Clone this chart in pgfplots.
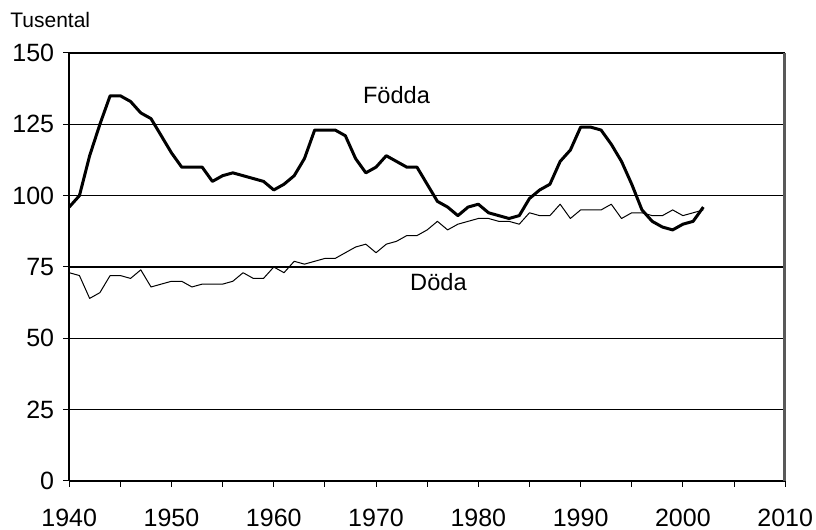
\documentclass[border=0pt]{standalone}
\usepackage{fontspec}
\setmainfont{Liberation Sans}
\usepackage{pgfplots}
\pgfplotsset{compat=1.18}
\begin{document}
\begin{tikzpicture}
\useasboundingbox (-34.6pt,-24.5pt) rectangle (373.4pt,240.5pt);
\begin{axis}[
  name=ax,
  at={(0pt,0pt)}, anchor=south west,
  scale only axis, width=358pt, height=214pt,
  xmin=1940, xmax=2010, ymin=0, ymax=150,
  axis x line=bottom, axis y line=left,
  axis line style={-, line width=0.8pt, black},
  xtick={1940,1950,...,2010}, minor x tick num=1,
  ytick={0,25,...,150},
  tick align=outside, major tick length=3pt, minor tick length=3pt,
  tick style={black, line width=0.5pt},
  ymajorgrids, major grid style={black, line width=0.55pt},
  /pgf/number format/assume math mode=true,
  /pgf/number format/1000 sep={},
  tick label style={font=\fontsize{12.5}{14}\selectfont},
  xticklabel style={yshift=-7.5pt},
  yticklabel style={xshift=-1pt},
  clip=false,
]
\addplot[black, line width=1.5pt, line join=round, mark=none] coordinates {
(1940,96) (1941,100) (1942,114) (1943,125) (1944,135) (1945,135) (1946,133)
(1947,129) (1948,127) (1949,121) (1950,115) (1951,110) (1952,110) (1953,110)
(1954,105) (1955,107) (1956,108) (1957,107) (1958,106) (1959,105) (1960,102)
(1961,104) (1962,107) (1963,113) (1964,123) (1965,123) (1966,123) (1967,121)
(1968,113) (1969,108) (1970,110) (1971,114) (1972,112) (1973,110) (1974,110)
(1975,104) (1976,98) (1977,96) (1978,93) (1979,96) (1980,97) (1981,94)
(1982,93) (1983,92) (1984,93) (1985,99) (1986,102) (1987,104) (1988,112)
(1989,116) (1990,124) (1991,124) (1992,123) (1993,118) (1994,112) (1995,104)
(1996,95) (1997,91) (1998,89) (1999,88) (2000,90) (2001,91) (2002,96)
};
\addplot[black, line width=0.5pt, line join=round, mark=none] coordinates {
(1940,73) (1941,72) (1942,64) (1943,66) (1944,72) (1945,72) (1946,71)
(1947,74) (1948,68) (1949,69) (1950,70) (1951,70) (1952,68) (1953,69)
(1954,69) (1955,69) (1956,70) (1957,73) (1958,71) (1959,71) (1960,75)
(1961,73) (1962,77) (1963,76) (1964,77) (1965,78) (1966,78) (1967,80)
(1968,82) (1969,83) (1970,80) (1971,83) (1972,84) (1973,86) (1974,86)
(1975,88) (1976,91) (1977,88) (1978,90) (1979,91) (1980,92) (1981,92)
(1982,91) (1983,91) (1984,90) (1985,94) (1986,93) (1987,93) (1988,97)
(1989,92) (1990,95) (1991,95) (1992,95) (1993,97) (1994,92) (1995,94)
(1996,94) (1997,93) (1998,93) (1999,95) (2000,93) (2001,94) (2002,95)
};
\draw[black!65, line width=1pt] (axis cs:2010,0) -- (axis cs:2010,150);
\node[font=\fontsize{11.8}{14}\selectfont] at (axis cs:1972,135.2) {Födda};
\node[font=\fontsize{11.8}{14}\selectfont] at (axis cs:1976.1,69.6) {Döda};
\end{axis}
\draw[black!65, line width=1pt] (357.5pt,0pt) -- (357.5pt,214pt);
\node[anchor=west, inner sep=0pt, font=\fontsize{10.5}{12}\selectfont] at (-29.6pt,230.5pt) {Tusental};
\end{tikzpicture}
\end{document}
